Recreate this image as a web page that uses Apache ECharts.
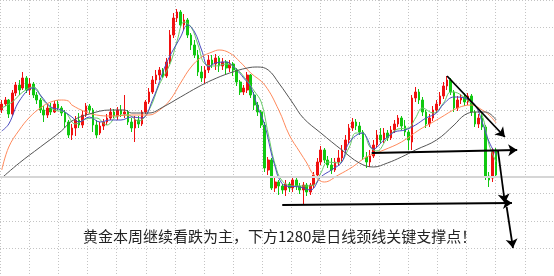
<!DOCTYPE html>
<html><head><meta charset="utf-8">
<script src="https://cdn.jsdelivr.net/npm/echarts@6/dist/echarts.min.js"></script>
<style>html,body{margin:0;padding:0;background:#fff}#c{width:554px;height:276px}</style>
</head><body><div id="c"></div>
<script>
// [open, close, low, high]
const ohlc = [
[1327,1330,1325.5,1332],[1330,1332,1329,1333.5],[1332,1325,1323,1332.5],[1325,1335.5,1324,1337],
[1335.5,1339.5,1334,1341],[1339.5,1337,1334.5,1342],[1338,1343,1337,1346],[1343,1337,1335.5,1344],
[1337,1340,1334.5,1343],[1340,1334.5,1333,1341],[1334.5,1332,1330,1336],[1332,1327,1325.5,1333],
[1327,1324.5,1321,1329],[1324.5,1328,1323,1330],[1328,1326,1324.5,1330.5],[1326,1330,1325.5,1331.5],
[1330,1328,1327,1332],[1328,1325.5,1324,1329],[1325.5,1321,1318,1327],[1321,1314.5,1313,1322],
[1314.5,1318,1312,1320],[1318,1322,1314,1324],[1322,1319.5,1318,1325.5],[1319.5,1324.5,1318,1326.5],
[1324.5,1329,1323.5,1330.5],[1329,1327,1325.5,1330],[1327,1319.5,1316,1328],[1319.5,1314.5,1313,1322],
[1315.5,1319,1314.5,1321],[1319,1321,1317,1322.5],[1321,1323,1319.5,1325],[1323,1326,1322,1328],
[1326,1324,1323,1327.5],[1324,1327,1322,1328.5],[1327,1325,1323.5,1329.5],[1325,1326,1323,1334.5],
[1326,1321,1319.5,1327],[1321,1318,1316,1323],[1318,1322,1311,1324],[1322,1320,1318,1324],
[1320,1326,1319,1327],[1326,1331,1325,1332],[1331,1336,1330,1338],[1336,1342,1335,1344],
[1342,1344.5,1340,1347],[1344.5,1347,1342,1348.5],[1347,1344,1343,1348],[1344,1351,1343,1353],
[1351,1364.5,1350,1367],[1364.5,1373,1363,1375.5],[1373,1376,1371,1377.5],[1376,1369.5,1368,1377],
[1369.5,1372,1367,1375],[1372,1364.5,1363,1373],[1364.5,1359.5,1357,1365.5],[1359.5,1354.5,1353,1362],
[1354.5,1346,1344,1357],[1346,1343,1341,1349],[1343,1347,1340,1349],[1347,1352,1345.5,1354.5],
[1352,1350,1348,1354.5],[1350,1353,1347,1355],[1353,1349,1346,1354],[1349,1351,1347,1353],
[1351,1348,1345,1352],[1348,1350,1346,1352],[1350,1347,1344,1351],[1347,1341,1339,1348],
[1341,1336,1334.5,1342],[1336,1338,1334.5,1339.5],[1337,1344.5,1335.5,1346],[1344.5,1334.5,1333,1345],
[1334.5,1329.5,1327,1336],[1329.5,1326,1324,1331],[1326,1319.5,1318,1327],[1319.5,1298,1296,1321],
[1297,1302,1294.5,1303.5],[1302,1288,1287,1303],[1288,1291,1286,1293],[1291,1289,1284.5,1292],
[1289,1287,1285,1290],[1287,1290,1284,1292],[1290,1288,1286,1291],[1288,1292,1286,1293.5],
[1292,1289,1287,1293],[1289,1287,1285,1290.5],[1287,1289.5,1279.5,1291],[1289.5,1286,1284,1290.5],
[1286,1289.5,1284.5,1290.5],[1289.5,1294.5,1288,1296],[1294.5,1301,1293,1303],[1301,1307,1299.5,1309],
[1307,1302,1300.5,1308],[1302,1299.5,1298,1304],[1299.5,1297,1295,1303],[1297,1301,1296,1303],
[1301,1303,1299,1307],[1303,1307,1301,1309.5],[1307,1312,1305.5,1314.5],[1312,1318,1310.5,1320],
[1318,1321,1316.5,1323],[1321,1319,1317,1322.5],[1319,1316,1314.5,1321],[1316,1303.5,1302,1317],
[1303.5,1301,1298,1306],[1301,1304,1298.5,1307],[1304,1309.5,1303,1312],[1309.5,1314.5,1308,1317],
[1314.5,1312,1310.5,1318],[1312,1315.5,1310.5,1318],[1315.5,1313,1311.5,1317],[1313,1317,1312,1319],
[1317,1320,1315.5,1322],[1320,1323,1318.5,1324.5],[1323,1319,1317,1324],[1319,1316,1314,1322],
[1316,1312,1307,1317],[1311,1333,1307,1334.5],[1333,1336,1331,1338.5],[1336,1332,1330,1337.5],
[1332,1326,1324,1333.5],[1326,1320,1318,1327],[1320,1323,1318.5,1325],[1323,1327,1321.5,1329],
[1327,1330,1325.5,1332],[1330,1334,1329,1336],[1334,1339,1332.5,1341],[1339,1342,1337,1344],
[1342,1336,1334.5,1343],[1336,1328,1326,1337],[1328,1332,1326.5,1334],[1332,1333.5,1330,1335],
[1333.5,1331,1329,1335.5],[1331,1334,1329.5,1335.5],[1334,1326,1324,1335],[1326,1320,1318.5,1327],
[1320,1323,1318,1325],[1323,1318.5,1317,1325],[1318.5,1294,1292,1319.5],[1294,1292,1288.5,1296],
[1293,1307,1291,1308],[1307,1294.5,1293,1308]
];
const emptySlots = 16;

// moving averages: [candle index, price]
const ma5 = [[0,1328],[3,1331],[6,1336],[9,1338.5],[12,1331.5],[15,1327],[18,1326],[21,1320],[24,1322.5],[27,1323],[30,1319.5],[33,1324],[36,1324.5],[39,1321.5],[42,1327],[45,1340],[48,1350],[50,1361.5],[52,1371],[54,1368.5],[56,1359.5],[58,1350],[61,1349],[64,1350],[67,1347.5],[70,1341.5],[72,1336.5],[74,1331],[76,1315],[78,1299.5],[80,1291.5],[83,1289],[86,1289],[89,1289.5],[91,1295.5],[93,1301],[96,1300.5],[99,1308],[101,1315.5],[103,1315.5],[105,1308.5],[107,1306.5],[110,1313],[113,1317.5],[116,1318],[118,1323],[120,1328],[123,1325.5],[126,1330.5],[128,1336],[130,1335.5],[133,1331.5],[135,1329],[137,1324.5],[139,1309.5],[141,1301]];
const ma10 = [[0,1316.5],[2,1320],[5,1331.5],[9,1338],[11,1334.5],[14,1328.5],[17,1327],[20,1323.5],[22,1321],[25,1323.5],[28,1321],[31,1322],[34,1322],[37,1323.5],[40,1323],[43,1332],[47,1350.5],[51,1363.5],[53,1369.5],[55,1366],[57,1357],[59,1348.5],[61,1350.5],[64,1351],[67,1347],[69,1343],[71,1338.5],[73,1328.5],[75,1319.5],[77,1304.5],[78,1298.5],[79,1293],[81,1289],[85,1288.5],[88,1287],[91,1293.5],[94,1297],[97,1301],[99,1310.5],[103,1315.5],[104,1313.5],[106,1307.5],[109,1312],[112,1316],[115,1317],[118,1319.5],[121,1323],[124,1325.5],[126,1330],[129,1333.5],[132,1333],[135,1329.5],[137,1321],[139,1311],[141,1304.5]];
const ma20 = [[0,1297],[2,1308.5],[5,1317],[8,1323.5],[11,1328],[14,1331],[17,1332],[19,1331.5],[20,1329.5],[24,1326],[27,1324.5],[31,1324],[37,1324.5],[42,1324.5],[45,1327],[48,1332],[51,1340.5],[54,1348.5],[57,1353.5],[60,1356],[62,1357],[65,1355.5],[68,1351],[71,1345.5],[75,1339.5],[79,1327],[82,1314.5],[85,1306],[87,1300.5],[89,1294.5],[92,1291],[96,1294.5],[100,1298.5],[104,1303.5],[109,1307],[114,1311],[119,1317],[123,1321],[125,1323],[130,1328],[134,1329.5],[137,1327],[139,1324.5],[141,1320.5]];
const ma60 = [[0,1293],[5,1300.5],[11,1308.5],[17,1316.5],[20,1321.5],[25,1325],[31,1327],[35,1327],[37,1325.5],[42,1325.5],[46,1328.5],[51,1333.5],[56,1338.5],[60,1342],[65,1345.5],[70,1348],[73,1348.5],[76,1347],[79,1340.5],[83,1330.5],[86,1323],[91,1315.5],[97,1307],[102,1300.5],[106,1298.5],[110,1300.5],[114,1303.5],[118,1307],[124,1312],[129,1319.5],[132,1324.5],[135,1326],[138,1326],[141,1322]];

// hand-drawn arrows: [[index, price], [index, price]]
const arrows = [
  [[127,1344],[143.5,1313.5]],
  [[105.5,1305.5],[147,1307]],
  [[80,1279.5],[145.5,1280.5]],
  [[141.5,1307],[143.5,1280.5]],
  [[144,1278.5],[145.8,1258]]
];
const lastPrice = 1293.5;
const note = '黄金本周继续看跌为主，下方1280是日线颈线关键支撑点！';

const cats = ohlc.map((_, i) => 'd' + i);
for (let k = 0; k < emptySlots; k++) cats.push('e' + k);

const chart = echarts.init(document.getElementById('c'));
const maLine = (data, color) => ({
  type: 'line', xAxisIndex: 1, yAxisIndex: 0, data, smooth: 0.4, showSymbol: false, silent: true,
  lineStyle: { color, width: 1 }, z: 3
});

chart.setOption({
  animation: false,
  backgroundColor: '#fff',
  grid: [
    { left: 0, right: 0, top: 0, bottom: 0 },
    { left: -31, top: -21, width: 589, height: 310 }
  ],
  xAxis: [
    { type: 'category', gridIndex: 0, data: cats, boundaryGap: true, show: false },
    { type: 'value', gridIndex: 0, min: -0.5, max: cats.length - 0.5, show: false },
    { type: 'value', gridIndex: 1, min: -1, max: 18, interval: 1,
      axisLine: { show: false }, axisTick: { show: false }, axisLabel: { show: false },
      splitLine: { show: true, lineStyle: { color: '#c4c4c4', width: 1, type: [1, 2] } } }
  ],
  yAxis: [
    { type: 'value', gridIndex: 0, min: 1244, max: 1382, show: false },
    { type: 'value', gridIndex: 1, min: -1, max: 9, interval: 1,
      axisLine: { show: false }, axisTick: { show: false }, axisLabel: { show: false },
      splitLine: { show: true, lineStyle: { color: '#c4c4c4', width: 1, type: [1, 2] } } }
  ],
  series: [
    { type: 'candlestick', xAxisIndex: 0, yAxisIndex: 0, data: ohlc, barWidth: 2.2, silent: true,
      itemStyle: { color: '#f01010', color0: '#10c810', borderColor: '#f01010', borderColor0: '#10c810', borderWidth: 1 },
      markLine: { silent: true, symbol: 'none', label: { show: false },
        lineStyle: { color: '#d6d6d6', width: 2, type: 'solid' },
        data: [{ yAxis: lastPrice }] }, z: 2 },
    maLine(ma5, '#66cc66'),
    maLine(ma10, '#4a4ac0'),
    maLine(ma20, '#ff8a5c'),
    maLine(ma60, '#555555'),
    { type: 'line', xAxisIndex: 1, yAxisIndex: 0, data: [], silent: true, z: 5, clip: false,
      markLine: { silent: true, symbol: ['none', 'arrow'], symbolSize: 9, label: { show: false },
        lineStyle: { color: '#000', width: 1.8, type: 'solid' },
        itemStyle: { color: '#000' },
        data: arrows.map(a => [{ coord: a[0] }, { coord: a[1] }]) } }
  ],
  graphic: [{
    type: 'text', left: 83, top: 229,
    style: { text: note, fill: '#222', font: '15px "Noto Sans CJK SC", sans-serif' }
  }]
});
</script></body></html>
